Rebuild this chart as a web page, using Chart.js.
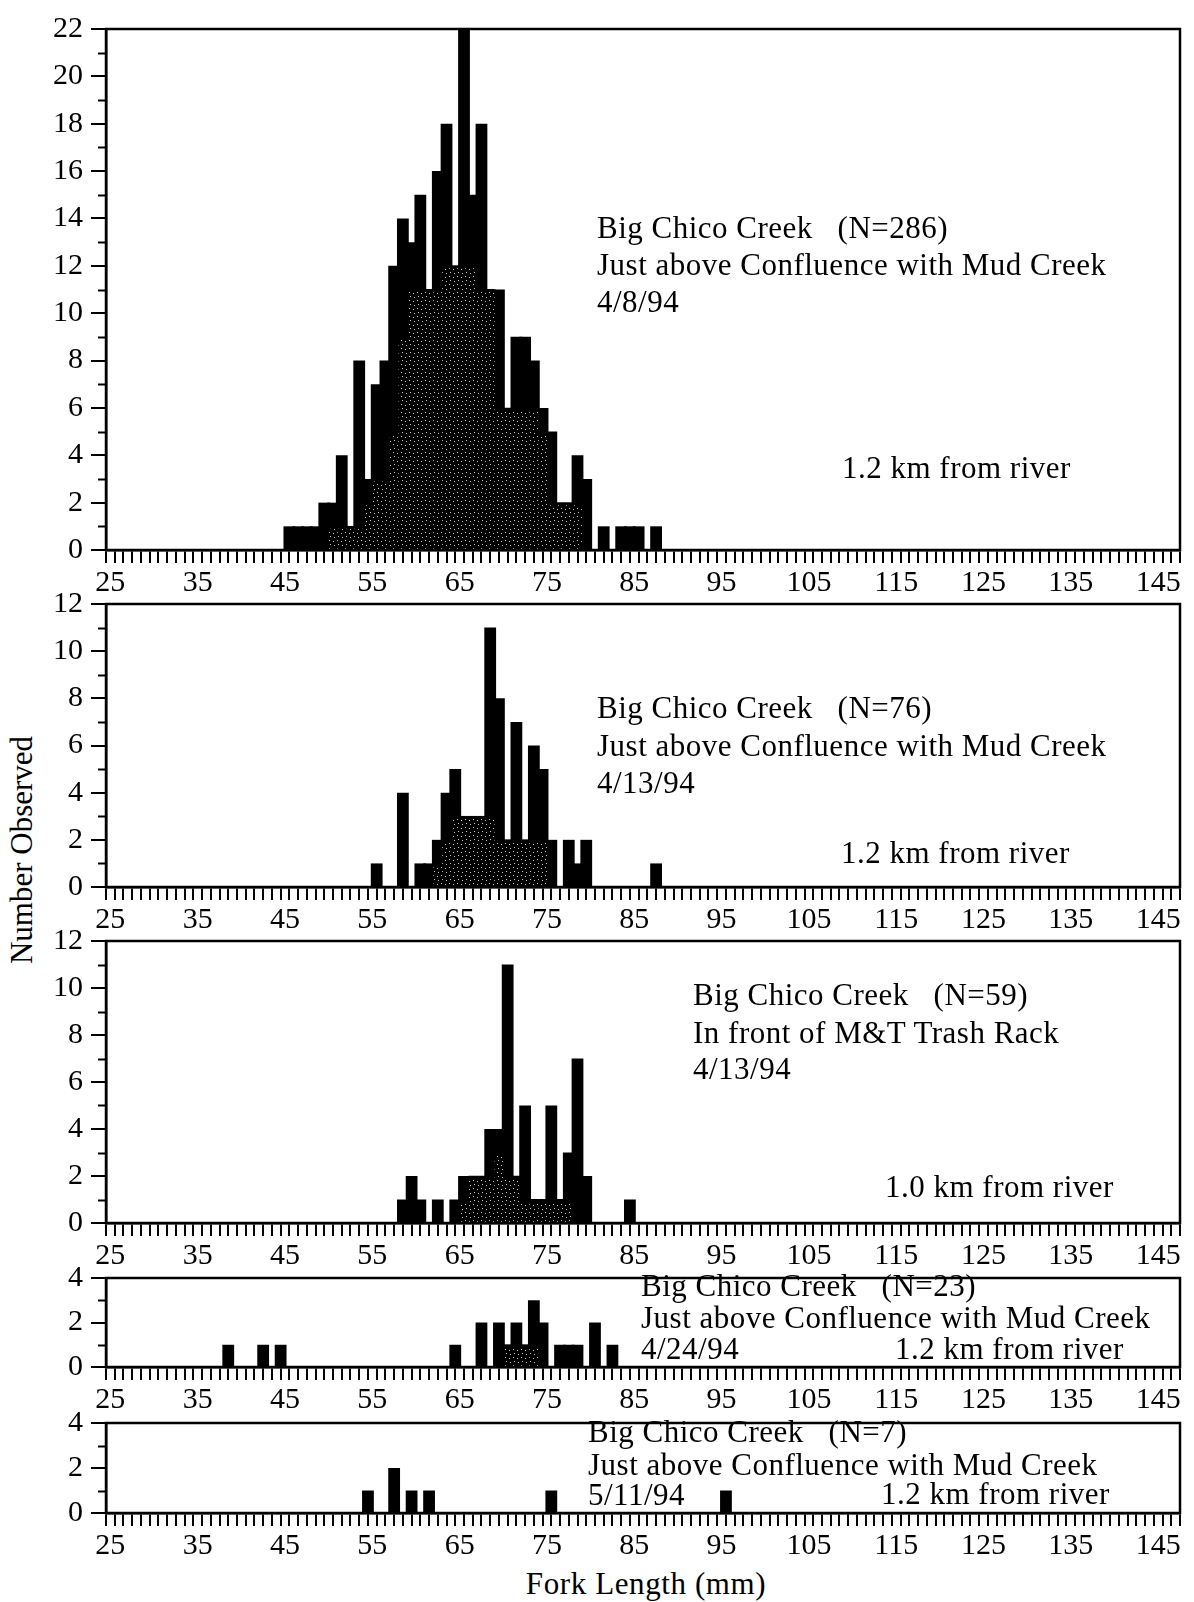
<!doctype html>
<html lang="en">
<head>
<meta charset="utf-8">
<title>Big Chico Creek fork length</title>
<script src="https://cdn.jsdelivr.net/npm/chart.js@4.4.1/dist/chart.umd.min.js"></script>
<style>
  html, body { margin: 0; padding: 0; background: #fff; overflow: hidden; }
  #page {
    position: relative;
    width: 1194px;
    height: 1602px;
    font-family: "Liberation Serif", "Times New Roman", serif;
    color: #000;
  }
  #page canvas { position: absolute; left: 0; }
  .note {
    position: absolute;
    font-size: 31px;
    line-height: 37px;
    white-space: pre;
    letter-spacing: 0.5px;
  }
  #ytitle {
    position: absolute;
    left: 22px;
    top: 850px;
    font-size: 31px;
    white-space: nowrap;
    transform: translate(-50%, -50%) rotate(-90deg);
  }
  #xtitle {
    position: absolute;
    left: 646px;
    top: 1566px;
    font-size: 31px;
    letter-spacing: 0.6px;
    white-space: nowrap;
    transform: translateX(-50%);
  }
</style>
</head>
<body>
<div id="page">
  <div id="ytitle">Number Observed</div>
  <div id="xtitle">Fork Length (mm)</div>
</div>
<script>
// counts per 1 mm fork-length bin; each list begins at its start bin
const start1 = 45;   // 4/8/94, above Mud Creek
const counts1 = [1, 1, 1, 1, 2, 2, 4, 1, 8, 3,
                 7, 8, 12, 14, 13, 15, 11, 16, 18, 12,
                 22, 15, 18, 11, 11, 6, 9, 9, 8, 6,
                 5, 2, 2, 4, 3, 0, 1, 0, 1, 1,
                 1, 0, 1];
const shade1 = [0, 0, 0, 0, 0, 1, 1, 1, 1, 2,
                3, 3, 5, 9, 11, 11, 11, 11, 12, 12,
                12, 12, 11, 11, 6, 6, 6, 6, 6, 5,
                2, 2, 2, 2];

const start2 = 55;   // 4/13/94, above Mud Creek
const counts2 = [1, 0, 0, 4, 0, 1, 1, 2, 4, 5,
                 3, 3, 3, 11, 8, 2, 7, 2, 6, 5,
                 2, 0, 2, 1, 2, 0, 0, 0, 0, 0,
                 0, 0, 1];
const shade2 = [0, 0, 0, 0, 0, 0, 0, 1, 2, 3,
                3, 3, 3, 3, 2, 2, 2, 2, 2, 2];

const start3 = 58;   // 4/13/94, M&T trash rack
const counts3 = [1, 2, 1, 0, 1, 0, 1, 2, 2, 2,
                 4, 4, 11, 2, 5, 1, 1, 5, 1, 3,
                 7, 2, 0, 0, 0, 0, 1];
const shade3 = [0, 0, 0, 0, 0, 0, 0, 1, 2, 2,
                2, 3, 2, 2, 1, 1, 1, 1, 1, 1];

const start4 = 38;   // 4/24/94
const counts4 = [1, 0, 0, 0, 1, 0, 1, 0, 0, 0,
                 0, 0, 0, 0, 0, 0, 0, 0, 0, 0,
                 0, 0, 0, 0, 0, 0, 1, 0, 0, 2,
                 0, 2, 1, 2, 1, 3, 2, 0, 1, 1,
                 1, 0, 2, 0, 1];
const shade4 = [0, 0, 0, 0, 0, 0, 0, 0, 0, 0,
                0, 0, 0, 0, 0, 0, 0, 0, 0, 0,
                0, 0, 0, 0, 0, 0, 0, 0, 0, 0,
                0, 0, 1, 1, 1, 1];

const start5 = 54;   // 5/11/94
const counts5 = [1, 0, 0, 2, 0, 1, 0, 1, 0, 0,
                 0, 0, 0, 0, 0, 0, 0, 0, 0, 0,
                 0, 1, 0, 0, 0, 0, 0, 0, 0, 0,
                 0, 0, 0, 0, 0, 0, 0, 0, 0, 0,
                 0, 1];
const shade5 = [];

const xTickLabels = [25, 35, 45, 55, 65, 75, 85, 95, 105, 115, 125, 135, 145];

const FONT = '"Liberation Serif", "Times New Roman", serif';

const panels = [
  { start: start1, counts: counts1, shade: shade1, yMax: 22, top: 23, bottom: 550,
    notes: [["Big Chico Creek   (N=286)", 597, 238],
            ["Just above Confluence with Mud Creek", 597, 275],
            ["4/8/94", 597, 312],
            ["1.2 km from river", 842, 478]] },
  { start: start2, counts: counts2, shade: shade2, yMax: 12, top: 598, bottom: 887,
    notes: [["Big Chico Creek   (N=76)", 597, 718],
            ["Just above Confluence with Mud Creek", 597, 756],
            ["4/13/94", 597, 793],
            ["1.2 km from river", 841, 863]] },
  { start: start3, counts: counts3, shade: shade3, yMax: 12, top: 935, bottom: 1223,
    notes: [["Big Chico Creek   (N=59)", 693, 1005],
            ["In front of M&T Trash Rack", 693, 1043],
            ["4/13/94", 693, 1079],
            ["1.0 km from river", 885, 1197]] },
  { start: start4, counts: counts4, shade: shade4, yMax: 4, top: 1272, bottom: 1367,
    notes: [["Big Chico Creek   (N=23)", 641, 1296],
            ["Just above Confluence with Mud Creek", 641, 1328],
            ["4/24/94", 641, 1359],
            ["1.2 km from river", 895, 1359]] },
  { start: start5, counts: counts5, shade: shade5, yMax: 4, top: 1417, bottom: 1513,
    notes: [["Big Chico Creek   (N=7)", 588, 1442],
            ["Just above Confluence with Mud Creek", 588, 1475],
            ["5/11/94", 588, 1505],
            ["1.2 km from river", 881, 1504]] },
];

// dark halftone used for the inner part of the histograms
function stipple() {
  const c = document.createElement("canvas");
  c.width = 8;
  c.height = 8;
  const g = c.getContext("2d");
  g.fillStyle = "#000";
  g.fillRect(0, 0, 8, 8);
  g.fillStyle = "#c8c8c8";
  [[1, 1], [5, 2], [2, 5], [6, 6]].forEach(([x, y]) => g.fillRect(x, y, 1, 1));
  return g.createPattern(c, "repeat");
}
const dots = stipple();

// box round the plot and the short ticks at odd counts
const frame = {
  id: "frame",
  afterDatasetsDraw(chart) {
    const { ctx, chartArea: a } = chart;
    const y = chart.scales.y;
    ctx.save();
    ctx.strokeStyle = "#000";
    ctx.lineWidth = 2.5;
    ctx.strokeRect(a.left, a.top, a.right - a.left, a.bottom - a.top);
    ctx.lineWidth = 2;
    for (let v = 1; v < y.max; v += 2) {
      const py = Math.round(y.getPixelForValue(v)) + 0.5;
      ctx.beginPath();
      ctx.moveTo(a.left - 8, py);
      ctx.lineTo(a.left, py);
      ctx.stroke();
    }
    ctx.restore();
  },
};

const PAD_TOP = 20;
const AXIS_H = 54;
const page = document.getElementById("page");

panels.forEach((p) => {
  const cv = document.createElement("canvas");
  cv.width = 1194;
  cv.height = PAD_TOP + (p.bottom - p.top) + AXIS_H;
  cv.style.top = (p.top - PAD_TOP) + "px";
  page.appendChild(cv);

  const total = p.counts.map((n, i) => ({ x: p.start + i + 0.5, y: n }));
  const inner = p.counts.map((n, i) => ({ x: p.start + i + 0.5, y: p.shade[i] || 0 }));

  new Chart(cv.getContext("2d"), {
    type: "bar",
    data: {
      datasets: [{
        label: "inner",
        data: inner,
        backgroundColor: dots,
        borderColor: "#000",
        borderWidth: { top: 3, left: 0, right: 0, bottom: 0 },
        barPercentage: 1,
        categoryPercentage: 1,
        inflateAmount: 0.5,
        grouped: false,
        order: 0,
      }, {
        label: "Number observed",
        data: total,
        backgroundColor: "#000",
        borderWidth: 0,
        barPercentage: 1.35,
        categoryPercentage: 1,
        grouped: false,
        order: 1,
      }],
    },
    options: {
      responsive: false,
      animation: false,
      events: [],
      layout: { padding: { top: PAD_TOP, right: 14, left: 0, bottom: 0 } },
      plugins: { legend: { display: false }, tooltip: { enabled: false } },
      scales: {
        x: {
          type: "linear",
          min: 25,
          max: 147,
          afterBuildTicks: (s) => {
            s.ticks = [];
            for (let v = 25; v <= 147; v++) s.ticks.push({ value: v });
          },
          afterFit: (s) => { s.height = AXIS_H; },
          grid: { drawOnChartArea: false, tickLength: 13, color: "#000", lineWidth: 2 },
          border: { color: "#000", width: 2.5 },
          ticks: {
            autoSkip: false,
            maxRotation: 0,
            padding: 2,
            color: "#000",
            font: { family: FONT, size: 30 },
            callback: (v) => (xTickLabels.includes(v) ? String(v) : ""),
          },
        },
        y: {
          min: 0,
          max: p.yMax,
          afterBuildTicks: (s) => {
            s.ticks = [];
            for (let v = 0; v <= p.yMax; v += 2) s.ticks.push({ value: v });
          },
          afterFit: (s) => { s.width = 106; },
          grid: { drawOnChartArea: false, tickLength: 15, color: "#000", lineWidth: 2 },
          border: { color: "#000", width: 2.5 },
          ticks: { padding: 8, color: "#000", font: { family: FONT, size: 30 } },
        },
      },
    },
    plugins: [frame],
  });

  p.notes.forEach(([text, x, base]) => {
    const d = document.createElement("div");
    d.className = "note";
    d.textContent = text;
    d.style.left = x + "px";
    d.style.top = (base - 29) + "px";
    page.appendChild(d);
  });
});
</script>
</body>
</html>
